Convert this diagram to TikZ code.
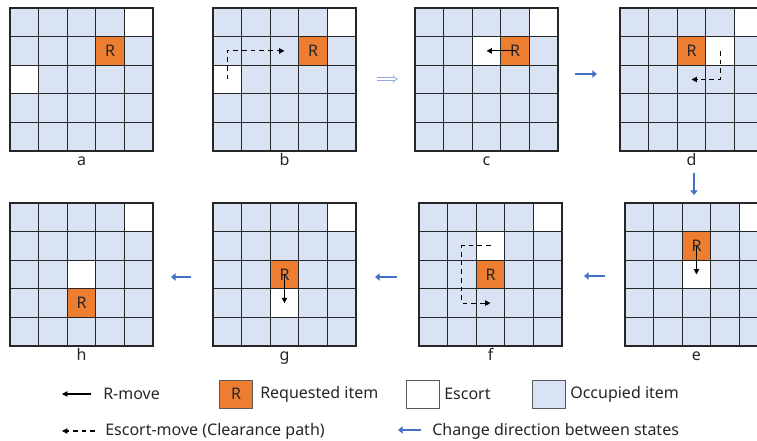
\documentclass[tikz,border=0pt]{standalone}
\usepackage{fontspec}
\setmainfont{Noto Sans}
\usetikzlibrary{arrows.meta,positioning}
\definecolor{creq}{RGB}{237,125,49}
\definecolor{cocc}{RGB}{218,227,243}
\definecolor{cstate}{RGB}{68,114,196}
\definecolor{cfirst}{RGB}{143,170,220}
\definecolor{cgrid}{RGB}{38,38,38}
\tikzset{
 cell/.style={draw=cgrid,fill=cocc,line width=0.9pt,minimum size=21.45pt,inner sep=0,outer sep=0},
 escort/.style={cell,fill=white},
 req/.style={cell,fill=creq,font=\fontsize{12}{14}\selectfont,text=black!85},
 lbl/.style={font=\fontsize{12}{14}\selectfont,text=black!85,text height=8.5pt,text depth=2.5pt,inner sep=1pt},
 rmove/.style={line width=0.8pt,-{Triangle[length=4pt,width=4pt]}},
 emove/.style={line width=0.8pt,dash pattern=on 3.5pt off 3pt,-{Triangle[length=4pt,width=4pt]}},
 statearrow/.style={draw=cstate,line width=2pt,-{Triangle[length=3.5pt,width=5.5pt]}},
 lbox/.style={draw=black!65,line width=0.6pt,minimum width=24.75pt,minimum height=21pt,inner sep=0,font=\fontsize{12}{14}\selectfont,text=black!85},
 ltext/.style={anchor=west,inner sep=0,font=\fontsize{12}{14}\selectfont,text=black!85}
}
% one 5x5 state: name, left, top, caption
\newcommand{\drawpanel}[4]{
 \foreach \r in {1,...,5}
  \foreach \c in {1,...,5}
   \node[cell] (#1-\r-\c) at ({#2+(\c-0.5)*28.6},{#3+(\r-0.5)*28.6}) {};
 \node[lbl,below=1.5pt of #1-5-3] (#1-lbl) {#4};
}

\begin{document}
\begin{tikzpicture}[x=0.75pt,y=-0.75pt]
\path[use as bounding box,fill=white] (0,0) rectangle (757,441);

% top row
\drawpanel{a}{10}{8}{a}
\node[escort] (a-e1) at (a-1-5) {};
\node[escort] (a-e2) at (a-3-1) {};
\node[req] (a-r) at (a-2-4) {R};

\drawpanel{b}{213}{8}{b}
\node[escort] (b-e1) at (b-1-5) {};
\node[escort] (b-e2) at (b-3-1) {};
\node[req] (b-r) at (b-2-4) {R};
\draw[emove] (b-e2.center) -- (b-2-1.center) -- (b-2-3.center);

\drawpanel{c}{415}{8}{c}
\node[escort] (c-e1) at (c-1-5) {};
\node[escort] (c-e2) at (c-2-3) {};
\node[req] (c-r) at (c-2-4) {R};
\draw[rmove] (c-r.center) -- (c-e2.center);

\drawpanel{d}{620}{8}{d}
\node[escort] (d-e1) at (d-1-5) {};
\node[escort] (d-e2) at (d-2-4) {};
\node[req] (d-r) at (d-2-3) {R};
\draw[emove] (d-e2.center) -- (d-3-4.center) -- (d-3-3.center);

% bottom row
\drawpanel{e}{625}{203}{e}
\node[escort] (e-e1) at (e-1-5) {};
\node[escort] (e-e2) at (e-3-3) {};
\node[req] (e-r) at (e-2-3) {R};
\draw[rmove] (e-r.center) -- (e-e2.center);

\drawpanel{f}{419}{203}{f}
\node[escort] (f-e1) at (f-1-5) {};
\node[escort] (f-e2) at (f-2-3) {};
\node[req] (f-r) at (f-3-3) {R};
\draw[emove] (f-e2.center) -- (f-2-2.center) -- (f-4-2.center) -- (f-4-3.center);

\drawpanel{g}{213}{203}{g}
\node[escort] (g-e1) at (g-1-5) {};
\node[escort] (g-e2) at (g-4-3) {};
\node[req] (g-r) at (g-3-3) {R};
\draw[rmove] (g-r.center) -- (g-e2.center);

\drawpanel{h}{10}{203}{h}
\node[escort] (h-e1) at (h-1-5) {};
\node[escort] (h-e2) at (h-3-3) {};
\node[req] (h-r) at (h-4-3) {R};

% arrows between states
\coordinate (bc-s) at (377,79); \coordinate (bc-t) at (398,79);
\draw[draw=cfirst,double=white,double distance=1.6pt,line width=0.5pt,-{Implies}] (bc-s) -- (bc-t);
\coordinate (cd-s) at (575,74); \coordinate (cd-t) at (597,74);
\draw[statearrow] (cd-s) -- (cd-t);
\coordinate (de-s) at (694,173); \coordinate (de-t) at (694,195);
\draw[statearrow] (de-s) -- (de-t);
\coordinate (ef-s) at (605,276); \coordinate (ef-t) at (584,276);
\draw[statearrow] (ef-s) -- (ef-t);
\coordinate (fg-s) at (397,277); \coordinate (fg-t) at (375,277);
\draw[statearrow] (fg-s) -- (fg-t);
\coordinate (gh-s) at (191,277); \coordinate (gh-t) at (171,277);
\draw[statearrow] (gh-s) -- (gh-t);

% legend
\coordinate (rm-s) at (91,394); \coordinate (rm-t) at (62,394);
\draw[rmove] (rm-s) -- (rm-t);
\node[ltext] (rm-txt) at (103,394) {R-move};
\node[lbox,fill=creq] (lg-req) at (236,394) {R};
\node[ltext] (req-txt) at (260,394) {Requested item};
\node[lbox,fill=white] (lg-esc) at (422.5,394) {};
\node[ltext] (esc-txt) at (444,394) {Escort};
\node[lbox,fill=cocc] (lg-occ) at (548.5,394) {};
\node[ltext] (occ-txt) at (570,394) {Occupied item};
\coordinate (em-s) at (95,431); \coordinate (em-t) at (62,431);
\draw[emove] (em-s) -- (em-t);
\node[ltext] (em-txt) at (105,431) {Escort-move (Clearance path)};
\coordinate (cs-s) at (421,430); \coordinate (cs-t) at (398,430);
\draw[statearrow] (cs-s) -- (cs-t);
\node[ltext] (cs-txt) at (432,431) {Change direction between states};

\end{tikzpicture}
\end{document}
